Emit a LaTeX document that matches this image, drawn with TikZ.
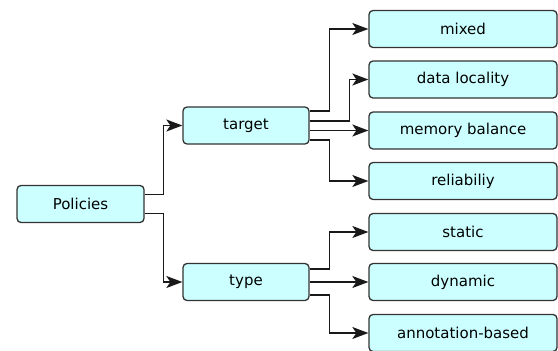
\documentclass[tikz,border=0pt]{standalone}
\usepackage{fontspec}
\setmainfont{DejaVu Sans}
\usetikzlibrary{arrows.meta,calc}
\definecolor{boxfill}{HTML}{CCFFFF}
\definecolor{boxdraw}{HTML}{333333}
\tikzset{
  box/.style={draw=boxdraw, fill=boxfill, rounded corners=4pt, line width=1.3pt,
    minimum height=37pt, inner sep=0pt, font=\fontsize{15}{18}\selectfont},
  lbox/.style={box, minimum width=126pt},
  rbox/.style={box, minimum width=188pt},
  conn/.style={draw=black!90, line width=1.4pt},
  arr/.style={conn, -{Stealth[length=16pt,width=12pt,inset=4pt]}}
}
\begin{document}
\begin{tikzpicture}[x=1pt,y=-1pt]
\useasboundingbox (0,0) rectangle (558,351);
\node[lbox, minimum width=127pt] (pol) at (80.5,204) {Policies};
\node[lbox] (target) at (246,125.5) {target};
\node[lbox] (type) at (246,282) {type};
\node[rbox] (mixed) at (463,29) {mixed};
\node[rbox] (dl) at (463,79.5) {data locality};
\node[rbox] (mb) at (463,130.5) {memory balance};
\node[rbox] (rel) at (463,181) {reliabiliy};
\node[rbox] (static) at (463,232) {static};
\node[rbox] (dyn) at (463,282) {dynamic};
\node[rbox] (ann) at (463,333) {annotation-based};
% Policies
\draw[arr] ($(pol.east)+(0,-9.5)$) -- ++(19,0) |- (target.west);
\draw[arr] ($(pol.east)+(0,9.5)$) -- ++(19,0) |- (type.west);
% target
\draw[arr] ($(target.east)+(0,-14.5)$) -- ++(20,0) |- (mixed.west);
\draw[arr] ($(target.east)+(0,-4.5)$) -- ++(40,0) |- (dl.west);
\draw[arr] (target.east |- mb.west) -- (mb.west);
\draw[arr] ($(target.east)+(0,14.5)$) -- ++(20,0) |- (rel.west);
% type
\draw[arr] ($(type.east)+(0,-13)$) -- ++(20,0) |- (static.west);
\draw[arr] (type.east) -- (dyn.west);
\draw[arr] ($(type.east)+(0,13)$) -- ++(20,0) |- (ann.west);
\end{tikzpicture}
\end{document}
